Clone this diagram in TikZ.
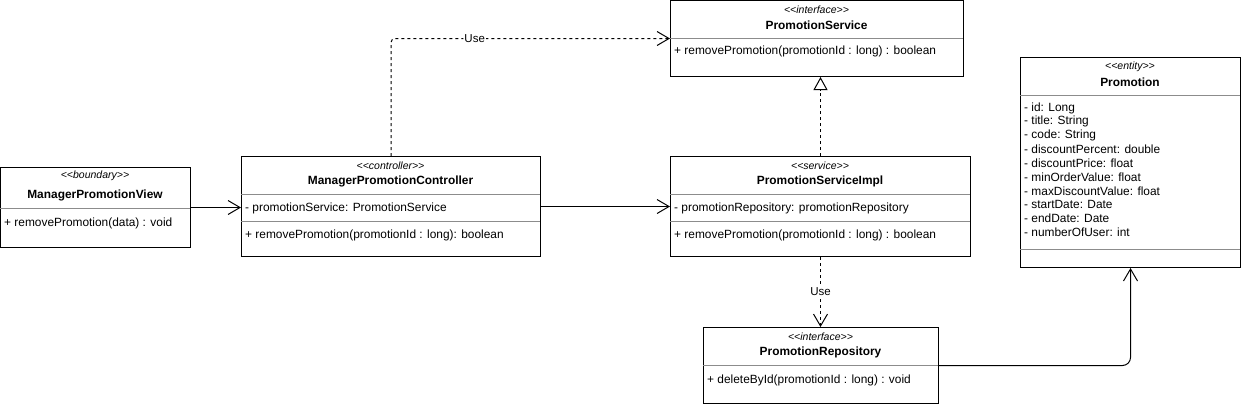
\documentclass[tikz,border=0pt]{standalone}
\usepackage{fontspec}
\setmainfont{Liberation Sans}
\usetikzlibrary{positioning,arrows.meta}
\newcommand{\stype}[1]{<\kern0pt<#1>\kern0pt>}
\tikzset{
  umlbox/.style={draw, line width=1pt, anchor=north west, inner sep=0pt},
  stereo/.style={font=\fontsize{10.5}{12}\selectfont\itshape, inner sep=0pt},
  title/.style={font=\fontsize{11.9}{14}\selectfont\bfseries, inner sep=0pt},
  member/.style={font=\fontsize{11.9}{14}\selectfont, anchor=west, inner sep=0pt},
  divider/.style={draw=black!45, line width=1pt},
  assoc/.style={-{Straight Barb[length=12pt,width=14pt]}, line width=1pt},
  uses/.style={assoc, dash pattern=on 3pt off 3pt},
  realize/.style={-{Triangle[open,length=13pt,width=14pt]}, dash pattern=on 3pt off 3pt, line width=1pt},
  uselabel/.style={fill=white, font=\fontsize{11.5}{13}\selectfont, inner sep=1pt}
}

\begin{document}
\begin{tikzpicture}[x=1pt,y=-1pt]
\useasboundingbox (0,0) rectangle (1241,405);
% class boxes
\node[umlbox, minimum width=190pt, minimum height=80pt] (view) at (0,167) {};
\node[umlbox, minimum width=299pt, minimum height=100pt] (ctrl) at (241,156) {};
\node[umlbox, minimum width=293pt, minimum height=76pt] (psvc) at (670,0) {};
\node[umlbox, minimum width=300pt, minimum height=100pt] (impl) at (670,156) {};
\node[umlbox, minimum width=235pt, minimum height=76pt] (repo) at (703,327) {};
\node[umlbox, minimum width=220pt, minimum height=210pt] (promo) at (1020,57) {};
% ManagerPromotionView
\node[stereo] (viewst) at (95,176) {\stype{boundary}};
\node[title] (viewtt) at (95,195) {ManagerPromotionView};
\draw[divider] (0,208)--(190,208);
\node[member] (viewm) at (4,223) {+ removePromotion(data) : void};
% ManagerPromotionController
\node[stereo] (ctrlst) at (390.5,166) {\stype{controller}};
\node[title] (ctrltt) at (390.5,181) {ManagerPromotionController};
\draw[divider] (241,194)--(540,194);
\node[member] (ctrla) at (245,208) {- promotionService: PromotionService};
\draw[divider] (241,221)--(540,221);
\node[member] (ctrlm) at (245,235) {+ removePromotion(promotionId : long): boolean};
% PromotionService
\node[stereo] (psvcst) at (816.5,10) {\stype{interface}};
\node[title] (psvctt) at (816.5,25) {PromotionService};
\draw[divider] (670,38)--(963,38);
\node[member] (psvcm) at (674,51) {+ removePromotion(promotionId : long) : boolean};
% PromotionServiceImpl
\node[stereo] (implst) at (820,166) {\stype{service}};
\node[title] (impltt) at (820,181) {PromotionServiceImpl};
\draw[divider] (670,194)--(970,194);
\node[member] (impla) at (674,208) {- promotionRepository: promotionRepository};
\draw[divider] (670,221)--(970,221);
\node[member] (implm) at (674,235) {+ removePromotion(promotionId : long) : boolean};
% PromotionRepository
\node[stereo] (repost) at (820.5,337) {\stype{interface}};
\node[title] (repott) at (820.5,352) {PromotionRepository};
\draw[divider] (703,365)--(938,365);
\node[member] (repom) at (707,380) {+ deleteById(promotionId : long) : void};
% Promotion
\node[stereo] (promost) at (1130,67) {\stype{entity}};
\node[title] (promott) at (1130,82) {Promotion};
\draw[divider] (1020,95)--(1240,95);
\foreach \txt [count=\i from 0] in {- id: Long, - title: String, - code: String, - discountPercent: double, - discountPrice: float, - minOrderValue: float, - maxDiscountValue: float, - startDate: Date, - endDate: Date, - numberOfUser: int}
  \node[member] (promoa\i) at (1024,108+13.8*\i) {\txt};
\draw[divider] (1020,249)--(1240,249);
% connectors
\draw[assoc] (view.east) -- (view.east -| ctrl.west);
\draw[assoc] (ctrl.east) -- (ctrl.east -| impl.west);
\draw[uses, rounded corners=4pt] (ctrl.north) |- (psvc.west) node[uselabel, pos=0.65]{Use};
\draw[realize] (impl.north) -- (impl.north |- psvc.south);
\draw[uses] (impl.south) -- (impl.south |- repo.north) node[uselabel, midway]{Use};
\draw[assoc, rounded corners=8pt] (repo.east) -| (promo.south);
\end{tikzpicture}
\end{document}
